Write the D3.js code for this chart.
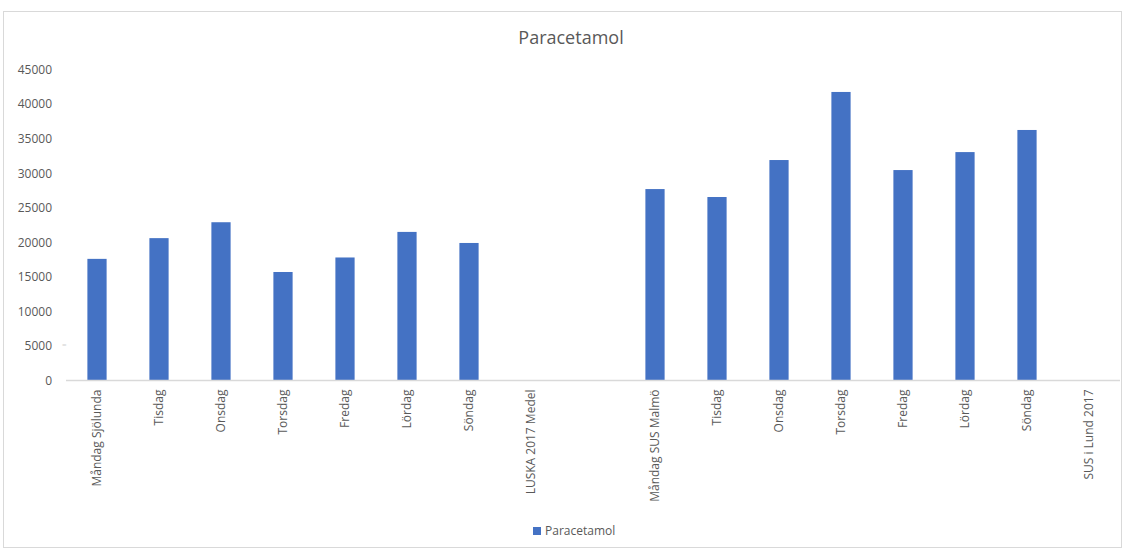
<!DOCTYPE html>
<html><head><meta charset="utf-8">
<script src="https://cdn.jsdelivr.net/npm/d3@7"></script>
<style>body{margin:0;background:#fff}svg{display:block}</style>
</head><body>
<script>
const categories = ["Måndag Sjölunda","Tisdag","Onsdag","Torsdag","Fredag","Lördag","Söndag","LUSKA 2017 Medel","",
  "Måndag SUS Malmö","Tisdag","Onsdag","Torsdag","Fredag","Lördag","Söndag","SUS i Lund 2017"];
const values = [17600,20600,22900,15700,17800,21500,19900,null,null,
  27700,26550,31900,41750,30450,33050,36250,null];
const yTicks = [0,5000,10000,15000,20000,25000,30000,35000,40000,45000];
const seriesName = "Paracetamol";

const W=1127,H=551;
const svg=d3.select("body").append("svg").attr("width",W).attr("height",H);
const font="'Open Sans', 'Liberation Sans', sans-serif";
svg.append("rect").attr("x",3.5).attr("y",11.5).attr("width",1118).attr("height",536)
  .attr("fill","#fff").attr("stroke","#d9d9d9");

const x=d3.scaleBand().domain(d3.range(categories.length)).range([66,66+62*categories.length]).paddingInner(0.69).paddingOuter(0.345);
const y=d3.scaleLinear().domain([0,45000]).range([380.5,69.5]);

svg.append("text").attr("x",571).attr("y",44).attr("text-anchor","middle")
  .attr("font-family",font).attr("font-size",18).attr("fill","#595959").text("Paracetamol");

const ya=svg.append("g").attr("transform","translate(56,0)")
  .call(d3.axisLeft(y).tickValues(yTicks).tickSize(0).tickPadding(4).tickFormat(d3.format("d")));
ya.select(".domain").remove();
ya.selectAll("text").attr("font-family",font).attr("font-size",12).attr("fill","#595959");

svg.append("g").selectAll("rect").data(values.map((v,i)=>({v,i})).filter(d=>d.v!=null)).join("rect")
  .attr("x",d=>x(d.i)).attr("width",x.bandwidth())
  .attr("y",d=>y(d.v)).attr("height",d=>y(0)-y(d.v)).attr("fill","#4472c4");

const xa=svg.append("g").attr("transform",`translate(0,${y(0)})`)
  .call(d3.axisBottom(x).tickSize(0).tickFormat(i=>categories[i]));
xa.select(".domain").attr("stroke","#d9d9d9").attr("stroke-width",1.5)
  .attr("d",`M66,0H${66+62*categories.length}`);
xa.selectAll("text").attr("font-family",font).attr("font-size",12).attr("fill","#595959")
  .attr("transform","rotate(-90)").attr("text-anchor","end").attr("dy","0.35em")
  .attr("x",-9).attr("y",0);

svg.append("text").attr("x",62).attr("y",347).attr("font-family",font).attr("font-size",8)
  .attr("fill","#d0d0d0").text("=");

const lg=svg.append("g").attr("transform","translate(533,527)");
lg.append("rect").attr("width",8).attr("height",8).attr("fill","#4472c4");
lg.append("text").attr("x",12).attr("y",4).attr("dy","0.35em").attr("font-family",font)
  .attr("font-size",12).attr("fill","#595959").text(seriesName);
</script>
</body></html>
